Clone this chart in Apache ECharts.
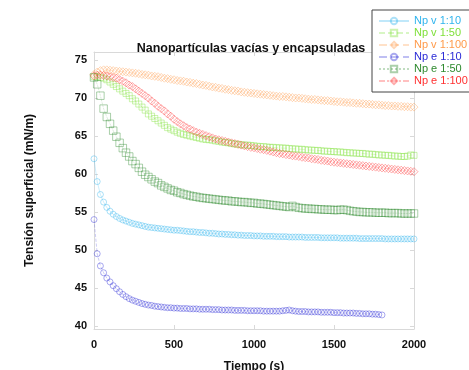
<!DOCTYPE html>
<html>
<head>
<meta charset="utf-8">
<script src="https://cdn.jsdelivr.net/npm/echarts@6/dist/echarts.min.js"></script>
<style>
  html, body { margin: 0; padding: 0; background: #fff; }
  #chart { width: 469px; height: 370px; }
</style>
</head>
<body>
<div id="chart"></div>
<script>
// tiempo (s), one reading every 20 s
const tiempo = [
  0, 20, 40, 60, 80, 100, 120, 140, 160, 180, 200, 220, 240, 260, 280, 300, 320, 340, 360, 380,
  400, 420, 440, 460, 480, 500, 520, 540, 560, 580, 600, 620, 640, 660, 680, 700, 720, 740, 760, 780,
  800, 820, 840, 860, 880, 900, 920, 940, 960, 980, 1000, 1020, 1040, 1060, 1080, 1100, 1120, 1140, 1160, 1180,
  1200, 1220, 1240, 1260, 1280, 1300, 1320, 1340, 1360, 1380, 1400, 1420, 1440, 1460, 1480, 1500, 1520, 1540, 1560, 1580,
  1600, 1620, 1640, 1660, 1680, 1700, 1720, 1740, 1760, 1780, 1800, 1820, 1840, 1860, 1880, 1900, 1920, 1940, 1960, 1980,
  2000
];

const npV10 = [
  62.0, 59.0, 57.3, 56.3, 55.6, 55.1, 54.7, 54.4, 54.15, 53.95, 53.8, 53.65, 53.5, 53.4, 53.3, 53.2, 53.1, 53.0, 52.95, 52.9,
  52.85, 52.8, 52.75, 52.7, 52.65, 52.6, 52.6, 52.55, 52.5, 52.45, 52.4, 52.4, 52.35, 52.3, 52.3, 52.25, 52.2, 52.2, 52.15, 52.1,
  52.1, 52.05, 52.05, 52.0, 52.0, 51.95, 51.95, 51.9, 51.9, 51.9, 51.85, 51.85, 51.85, 51.8, 51.8, 51.8, 51.8, 51.75, 51.75, 51.75,
  51.75, 51.7, 51.7, 51.7, 51.7, 51.7, 51.65, 51.65, 51.65, 51.65, 51.65, 51.6, 51.6, 51.6, 51.6, 51.6, 51.6, 51.55, 51.55, 51.55,
  51.55, 51.55, 51.55, 51.5, 51.5, 51.5, 51.5, 51.5, 51.5, 51.5, 51.5, 51.45, 51.45, 51.45, 51.45, 51.45, 51.45, 51.45, 51.45, 51.45,
  51.45
];

const npV50 = [
  72.8, 72.8, 72.7, 72.6, 72.4, 72.1, 71.8, 71.5, 71.2, 70.9, 70.6, 70.3, 69.9, 69.6, 69.2, 68.8, 68.4, 67.9, 67.6, 67.3,
  67.0, 66.7, 66.4, 66.1, 65.9, 65.7, 65.5, 65.35, 65.2, 65.1, 65.0, 64.9, 64.8, 64.7, 64.6, 64.55, 64.5, 64.45, 64.35, 64.3,
  64.2, 64.15, 64.1, 64.0, 63.95, 63.9, 63.85, 63.8, 63.8, 63.75, 63.7, 63.65, 63.6, 63.6, 63.55, 63.5, 63.5, 63.45, 63.45, 63.4,
  63.4, 63.35, 63.3, 63.3, 63.25, 63.25, 63.2, 63.15, 63.15, 63.1, 63.1, 63.05, 63.0, 63.0, 62.95, 62.95, 62.9, 62.9, 62.85, 62.8,
  62.8, 62.75, 62.75, 62.7, 62.7, 62.65, 62.6, 62.6, 62.55, 62.5, 62.5, 62.45, 62.45, 62.4, 62.35, 62.35, 62.3, 62.3, 62.35, 62.5,
  62.45
];

const npV100 = [
  73.1, 73.4, 73.6, 73.7, 73.7, 73.65, 73.6, 73.55, 73.5, 73.45, 73.4, 73.35, 73.3, 73.25, 73.2, 73.1, 73.05, 73.0, 72.9, 72.85,
  72.8, 72.7, 72.6, 72.55, 72.45, 72.4, 72.3, 72.25, 72.2, 72.1, 72.05, 71.95, 71.9, 71.8, 71.7, 71.65, 71.55, 71.45, 71.4, 71.3,
  71.25, 71.15, 71.1, 71.0, 70.95, 70.9, 70.8, 70.75, 70.7, 70.65, 70.6, 70.55, 70.5, 70.45, 70.4, 70.35, 70.3, 70.25, 70.2, 70.2,
  70.15, 70.1, 70.05, 70.0, 70.0, 69.95, 69.9, 69.85, 69.8, 69.8, 69.75, 69.7, 69.65, 69.65, 69.6, 69.55, 69.5, 69.5, 69.45, 69.4,
  69.4, 69.35, 69.3, 69.3, 69.25, 69.2, 69.2, 69.15, 69.1, 69.1, 69.05, 69.0, 69.0, 68.95, 68.95, 68.9, 68.9, 68.85, 68.85, 68.8,
  68.8
];

// this one stops at 1800 s
const npE10 = [
  54.0, 49.5, 47.9, 47.0, 46.3, 45.8, 45.3, 44.9, 44.5, 44.15, 43.85, 43.6, 43.4, 43.25, 43.1, 42.95, 42.85, 42.75, 42.7, 42.6,
  42.55, 42.5, 42.45, 42.4, 42.4, 42.35, 42.35, 42.3, 42.3, 42.3, 42.25, 42.25, 42.25, 42.2, 42.2, 42.2, 42.2, 42.15, 42.15, 42.15,
  42.1, 42.1, 42.1, 42.1, 42.05, 42.05, 42.05, 42.05, 42.0, 42.0, 42.0, 42.0, 42.0, 41.95, 41.95, 41.95, 41.95, 41.95, 41.95, 42.0,
  42.05, 42.1, 42.0, 41.95, 41.9, 41.9, 41.9, 41.85, 41.85, 41.85, 41.85, 41.8, 41.8, 41.8, 41.8, 41.75, 41.75, 41.75, 41.7, 41.7,
  41.7, 41.7, 41.65, 41.65, 41.6, 41.6, 41.6, 41.55, 41.55, 41.5, 41.45
];

const npE50 = [
  72.7, 71.8, 70.3, 68.6, 67.5, 66.6, 65.7, 64.9, 64.1, 63.4, 62.8, 62.3, 61.7, 61.3, 60.8, 60.3, 59.9, 59.6, 59.3, 59.0,
  58.8, 58.5, 58.3, 58.1, 57.9, 57.8, 57.6, 57.5, 57.35, 57.25, 57.15, 57.05, 57.0, 56.9, 56.85, 56.8, 56.75, 56.7, 56.65, 56.6,
  56.55, 56.5, 56.5, 56.4, 56.4, 56.35, 56.3, 56.3, 56.25, 56.2, 56.2, 56.1, 56.1, 56.05, 56.0, 55.95, 55.9, 55.85, 55.8, 55.75,
  55.7, 55.65, 55.8, 55.65, 55.55, 55.5, 55.45, 55.45, 55.4, 55.4, 55.35, 55.35, 55.3, 55.3, 55.3, 55.25, 55.25, 55.3, 55.3, 55.25,
  55.15, 55.1, 55.05, 55.0, 55.0, 54.95, 54.95, 54.95, 54.9, 54.9, 54.9, 54.9, 54.85, 54.85, 54.85, 54.85, 54.8, 54.8, 54.8, 54.8,
  54.8
];

const npE100 = [
  72.9, 73.0, 73.0, 72.95, 72.9, 72.8, 72.7, 72.6, 72.4, 72.2, 72.0, 71.7, 71.5, 71.2, 70.9, 70.6, 70.3, 70.0, 69.6, 69.3,
  68.9, 68.6, 68.3, 67.9, 67.6, 67.2, 66.9, 66.6, 66.35, 66.1, 65.9, 65.7, 65.5, 65.35, 65.2, 65.05, 64.9, 64.75, 64.6, 64.5,
  64.4, 64.3, 64.2, 64.1, 64.0, 63.9, 63.8, 63.7, 63.6, 63.5, 63.45, 63.35, 63.25, 63.2, 63.1, 63.0, 62.9, 62.8, 62.7, 62.65,
  62.55, 62.5, 62.4, 62.35, 62.3, 62.2, 62.15, 62.1, 62.0, 61.95, 61.9, 61.8, 61.75, 61.7, 61.6, 61.55, 61.5, 61.45, 61.4, 61.35,
  61.3, 61.25, 61.2, 61.15, 61.1, 61.05, 61.0, 60.95, 60.9, 60.85, 60.8, 60.75, 60.7, 60.65, 60.6, 60.55, 60.5, 60.45, 60.4, 60.35,
  60.3
];

const yTicks = [40, 45, 50, 55, 60, 65, 70, 75];

const seriesDefs = [
  { name: 'Np v 1:10', values: npV10, color: '#2fb4ee', symbol: 'circle', size: 6, line: 'solid' },
  { name: 'Np v 1:50', values: npV50, color: '#7fe03a', symbol: 'rect', size: 6, line: [6, 3] },
  { name: 'Np v 1:100', values: npV100, color: '#ff9a4a', symbol: 'diamond', size: 8, line: [8, 4] },
  { name: 'Np e 1:10', values: npE10, color: '#2a2ad6', symbol: 'circle', size: 6, line: 'dashed' },
  { name: 'Np e 1:50', values: npE50, color: '#2e8a2e', symbol: 'rect', size: 7.5, line: 'dotted' },
  { name: 'Np e 1:100', values: npE100, color: '#ff3030', symbol: 'diamond', size: 8, line: [6, 2, 2, 2] },
];

const font = '"Liberation Sans", Arial, sans-serif';
const frameColor = '#d9d9d9';

const chart = echarts.init(document.getElementById('chart'), null, { renderer: 'canvas' });

const series = seriesDefs.map((d) => ({
  name: d.name,
  type: 'line',
  xAxisIndex: 0,
  yAxisIndex: 0,
  symbol: d.symbol,
  symbolSize: d.size,
  showAllSymbol: true,
  data: d.values.map((v, i) => [tiempo[i], v]),
  itemStyle: { color: 'rgba(0,0,0,0)', borderColor: d.color, borderWidth: 1, opacity: 0.4 },
  lineStyle: { color: d.color, width: 0.8, type: d.line, opacity: 0.3 },
  emphasis: { disabled: true },
}));

chart.setOption({
  animation: false,
  textStyle: { fontFamily: font },
  title: {
    text: 'Nanopartículas vacías y encapsuladas',
    left: 246,
    textAlign: 'center',
    top: 37,
    textStyle: { fontFamily: font, fontSize: 12.5, fontWeight: 'bold', color: '#111' },
  },
  legend: {
    orient: 'vertical',
    left: 372,
    top: 10,
    padding: [5, 2, 5, 6],
    itemGap: 0,
    itemWidth: 30,
    itemHeight: 8,
    backgroundColor: '#fff',
    borderColor: '#444',
    borderWidth: 1,
    borderRadius: 0,
    textStyle: { fontFamily: font, fontSize: 11, lineHeight: 12 },
    data: seriesDefs.map((d) => ({ name: d.name, textStyle: { color: d.color } })),
  },
  grid: { left: 94, right: 55, top: 52, bottom: 41, containLabel: false, outerBoundsMode: 'none' },
  xAxis: [
    {
      type: 'value',
      min: 0,
      max: 2000,
      interval: 500,
      name: 'Tiempo (s)',
      nameLocation: 'middle',
      nameGap: 32,
      nameTextStyle: { fontFamily: font, fontSize: 12, fontWeight: 'bold', color: '#111' },
      axisLine: { onZero: false, lineStyle: { color: frameColor } },
      axisTick: { inside: true, length: 4, lineStyle: { color: frameColor } },
      axisLabel: { margin: 10, fontSize: 11, fontWeight: 'bold', color: '#111', formatter: (v) => String(v) },
      splitLine: { show: false },
    },
    {
      type: 'value',
      position: 'top',
      min: 0,
      max: 2000,
      interval: 500,
      axisLine: { onZero: false, lineStyle: { color: frameColor } },
      axisTick: { inside: true, length: 4, lineStyle: { color: frameColor } },
      axisLabel: { show: false },
      splitLine: { show: false },
    },
  ],
  yAxis: [
    {
      type: 'value',
      min: 39.6,
      max: 76.05,
      name: 'Tensión superficial (mN/m)',
      nameLocation: 'middle',
      nameGap: 58,
      nameRotate: 90,
      nameTextStyle: { fontFamily: font, fontSize: 12, fontWeight: 'bold', color: '#111' },
      axisLine: { show: true, onZero: false, lineStyle: { color: frameColor } },
      axisTick: { show: true, inside: true, length: 4, customValues: yTicks, lineStyle: { color: frameColor } },
      axisLabel: { margin: 7, fontSize: 11, fontWeight: 'bold', color: '#111', customValues: yTicks },
      splitLine: { show: false },
    },
    {
      type: 'value',
      position: 'right',
      min: 39.6,
      max: 76.05,
      axisLine: { show: true, onZero: false, lineStyle: { color: frameColor } },
      axisTick: { show: true, inside: true, length: 4, customValues: yTicks, lineStyle: { color: frameColor } },
      axisLabel: { show: false },
      splitLine: { show: false },
    },
  ],
  series: series,
});
</script>
</body>
</html>
